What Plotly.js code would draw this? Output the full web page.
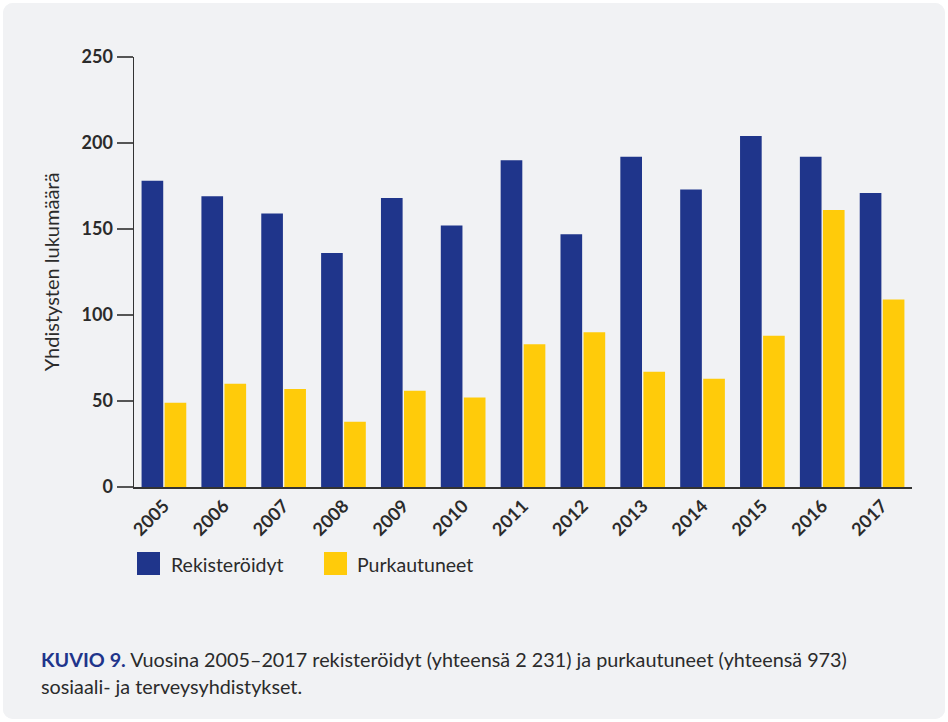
<!DOCTYPE html>
<html>
<head>
<meta charset="utf-8">
<script src="https://cdn.plot.ly/plotly-3.0.1.min.js"></script>
<style>
  html, body { margin: 0; padding: 0; background: #ffffff; }
  #panel { position: absolute; left: 3px; top: 3px; width: 942px; height: 716px;
           border-radius: 10px; overflow: hidden; background: #f1f2f4; }
  #chart { width: 942px; height: 716px; }
</style>
</head>
<body>
<div id="panel"><div id="chart"></div></div>
<script>
// ---- Data ----
const years = ["2005","2006","2007","2008","2009","2010","2011","2012","2013","2014","2015","2016","2017"];
const rekisteroidyt = [178,169,159,136,168,152,190,147,192,173,204,192,171];
const purkautuneet  = [49,60,57,38,56,52,83,90,67,63,88,161,109];
const yTicks = [0,50,100,150,200,250];
const seriesNames = ["Rekisteröidyt","Purkautuneet"];
const yTitle = "Yhdistysten lukumäärä";
const captionBold = "KUVIO 9.";
const captionLine1 = " Vuosina 2005–2017 rekisteröidyt (yhteensä 2 231) ja purkautuneet (yhteensä 973)";
const captionLine2 = "sosiaali- ja terveysyhdistykset.";

// ---- Styles ----
const BLUE = "#1f358b", YELLOW = "#ffcb0a", BG = "#f1f2f4", TXT = "#2b2b2b";
const W = 942, H = 716;
const M = {l: 131, r: 33, t: 54, b: 232};
const PW = W - M.l - M.r, PH = H - M.t - M.b;
const px = x => (x - M.l) / PW;          // div pixel -> paper x
const py = y => (H - M.b - y) / PH;      // div pixel -> paper y

const traces = [
  {type: "bar", x: years, y: rekisteroidyt, name: seriesNames[0], marker: {color: BLUE}, hoverinfo: "x+y+name"},
  {type: "bar", x: years, y: purkautuneet, name: seriesNames[1], marker: {color: YELLOW}, hoverinfo: "x+y+name"}
];

const layout = {
  width: W, height: H,
  paper_bgcolor: BG, plot_bgcolor: BG,
  margin: M,
  showlegend: false,
  barmode: "group",
  bargap: 0.23,
  bargroupgap: 0.06,
  font: {family: "Lato, 'Open Sans', sans-serif", color: TXT},
  xaxis: {
    type: "category",
    showline: true, linecolor: "#333", linewidth: 1.5,
    ticks: "", tickangle: -45,
    tickfont: {family: "Lato, sans-serif", size: 18, color: TXT, weight: "bold"},
    showgrid: false, zeroline: false, fixedrange: true
  },
  yaxis: {
    range: [0, 250], tickvals: yTicks,
    showline: true, linecolor: "#333", linewidth: 1.5,
    ticks: "outside", ticklen: 16, tickwidth: 1.5, tickcolor: "#555",
    tickfont: {family: "Lato, sans-serif", size: 18, color: TXT, weight: "bold"},
    showgrid: false, zeroline: false, fixedrange: true,
    title: {text: yTitle, font: {family: "Lato, sans-serif", size: 20, color: TXT}, standoff: 16}
  },
  shapes: [
    {type: "rect", xref: "paper", yref: "paper", x0: px(134), x1: px(157), y0: py(549), y1: py(572),
     fillcolor: BLUE, line: {width: 0}},
    {type: "rect", xref: "paper", yref: "paper", x0: px(321), x1: px(344), y0: py(549), y1: py(572),
     fillcolor: YELLOW, line: {width: 0}}
  ],
  annotations: [
    {xref: "paper", yref: "paper", x: px(166), y: py(561), xanchor: "left", yanchor: "middle",
     text: seriesNames[0], showarrow: false, font: {family: "Lato, sans-serif", size: 19.5, color: TXT}},
    {xref: "paper", yref: "paper", x: px(352), y: py(561), xanchor: "left", yanchor: "middle",
     text: seriesNames[1], showarrow: false, font: {family: "Lato, sans-serif", size: 19.5, color: TXT}},
    {xref: "paper", yref: "paper", x: px(36), y: py(656), xanchor: "left", yanchor: "middle",
     text: "<b style='color:" + BLUE + "'>" + captionBold + "</b>" + captionLine1, showarrow: false,
     font: {family: "Lato, sans-serif", size: 19.8, color: TXT}},
    {xref: "paper", yref: "paper", x: px(36), y: py(683), xanchor: "left", yanchor: "middle",
     text: captionLine2, showarrow: false, font: {family: "Lato, sans-serif", size: 19.8, color: TXT}}
  ]
};

Plotly.newPlot("chart", traces, layout, {displayModeBar: false, staticPlot: true});
</script>
</body>
</html>
